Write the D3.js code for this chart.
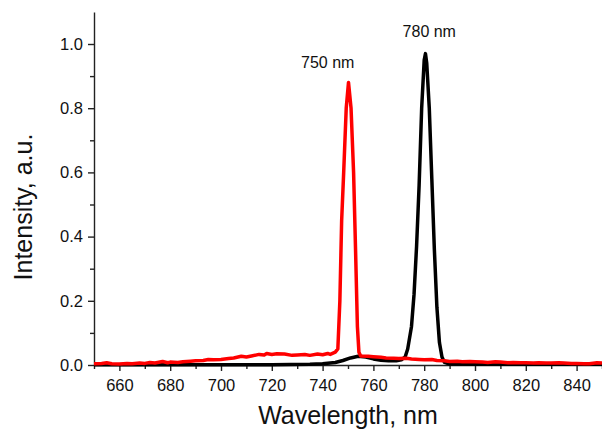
<!DOCTYPE html>
<html>
<head>
<meta charset="utf-8">
<script src="https://cdn.jsdelivr.net/npm/d3@7"></script>
<style>
  html, body { margin: 0; padding: 0; background: #fff; }
  svg { display: block; font-family: "Liberation Sans", Arial, sans-serif; }
</style>
</head>
<body>
<svg id="chart" width="602" height="431"></svg>
<script>
// Emission spectra
const redWavelength = [650, 653, 655, 657, 660, 663, 665, 668, 670, 672, 674, 677, 679, 680, 683, 685, 688, 690, 693, 695, 697, 700, 703, 705, 708, 710, 712, 715, 717, 718, 720, 722, 725, 728, 730, 733, 735, 738, 740, 742, 743, 745, 746, 746.8, 747.5, 748.3, 749.3, 750.2, 751.2, 752.2, 753, 753.7, 754.3, 755, 758, 760, 763, 765, 768, 770, 773, 775, 778, 780, 783, 785, 788, 790, 793, 795, 798, 800, 803, 805, 808, 810, 813, 815, 818, 820, 823, 825, 828, 830, 833, 835, 838, 840, 843, 845, 848, 850];
const redIntensity = [0.004, 0.005, 0.007, 0.004, 0.003, 0.005, 0.004, 0.006, 0.005, 0.008, 0.006, 0.011, 0.007, 0.009, 0.008, 0.01, 0.012, 0.013, 0.014, 0.017, 0.016, 0.017, 0.02, 0.022, 0.027, 0.025, 0.028, 0.033, 0.031, 0.036, 0.033, 0.035, 0.034, 0.03, 0.031, 0.033, 0.03, 0.034, 0.032, 0.036, 0.033, 0.04, 0.05, 0.2, 0.45, 0.6, 0.8, 0.88, 0.8, 0.6, 0.35, 0.12, 0.04, 0.028, 0.027, 0.026, 0.024, 0.022, 0.021, 0.02, 0.021, 0.019, 0.017, 0.016, 0.017, 0.014, 0.013, 0.011, 0.012, 0.01, 0.011, 0.01, 0.009, 0.008, 0.01, 0.009, 0.007, 0.008, 0.007, 0.007, 0.006, 0.007, 0.006, 0.006, 0.007, 0.006, 0.005, 0.005, 0.004, 0.004, 0.007, 0.006];

const blackWavelength = [650, 700, 720, 735, 740, 745, 748, 751, 754, 757, 760, 763, 766, 769, 771, 772.5, 773.5, 775, 776, 777, 778, 779, 780, 780.5, 781, 782, 783, 784, 785, 786, 787, 788, 790, 800, 850];
const blackIntensity = [0.001, 0.001, 0.001, 0.002, 0.004, 0.008, 0.014, 0.022, 0.027, 0.025, 0.019, 0.015, 0.013, 0.013, 0.016, 0.025, 0.05, 0.12, 0.22, 0.37, 0.56, 0.8, 0.95, 0.97, 0.94, 0.8, 0.58, 0.36, 0.18, 0.07, 0.025, 0.008, 0.003, 0.002, 0.002];

const peakLabels = ["750 nm", "780 nm"];
const peakLabelX = [742, 782];
const peakLabelY = [0.925, 1.022];

const xTicks = [660, 680, 700, 720, 740, 760, 780, 800, 820, 840];
const xMinorTicks = [650, 670, 690, 710, 730, 750, 770, 790, 810, 830, 850];
const yTicks = [0.0, 0.2, 0.4, 0.6, 0.8, 1.0];
const yMinorTicks = [0.1, 0.3, 0.5, 0.7, 0.9];

const svg = d3.select("#chart");

const x = d3.scaleLinear().domain([650, 850]).range([94, 602]);
const y = d3.scaleLinear().domain([0, 1.1]).range([365, 11.9]);

// Minor ticks first, then labelled axes on top
svg.append("g")
  .attr("transform", "translate(0,365)")
  .call(d3.axisBottom(x).tickValues(xMinorTicks).tickSize(4).tickFormat(""))
  .call(g => g.select(".domain").remove());

svg.append("g")
  .attr("transform", "translate(94,0)")
  .call(d3.axisLeft(y).tickValues(yMinorTicks).tickSize(4).tickFormat(""))
  .call(g => g.select(".domain").remove());

const xAxis = svg.append("g")
  .attr("transform", "translate(0,365)")
  .call(d3.axisBottom(x).tickValues(xTicks).tickSize(6).tickSizeOuter(0).tickPadding(8));

const yAxis = svg.append("g")
  .attr("transform", "translate(94,0)")
  .call(d3.axisLeft(y).tickValues(yTicks).tickSize(6).tickSizeOuter(0).tickPadding(5)
    .tickFormat(d3.format(".1f")));

svg.selectAll(".tick line, .domain").attr("stroke", "#222").attr("stroke-width", 1.4);
[xAxis, yAxis].forEach(a => a.selectAll("text")
  .attr("font-family", "Liberation Sans, Arial, sans-serif")
  .attr("font-size", 16.5)
  .attr("fill", "#111"));

// Spectra
const line = d3.line().x(d => x(d[0])).y(d => y(d[1]));

svg.append("path")
  .datum(d3.zip(blackWavelength, blackIntensity))
  .attr("fill", "none")
  .attr("stroke", "#000")
  .attr("stroke-width", 3.5)
  .attr("stroke-linejoin", "round")
  .attr("d", line);

svg.append("path")
  .datum(d3.zip(redWavelength, redIntensity))
  .attr("fill", "none")
  .attr("stroke", "#ff0000")
  .attr("stroke-width", 3.5)
  .attr("stroke-linejoin", "round")
  .attr("d", line);

// Peak annotations
svg.selectAll(".peak")
  .data(peakLabels)
  .enter().append("text")
  .attr("class", "peak")
  .attr("x", (d, i) => x(peakLabelX[i]))
  .attr("y", (d, i) => y(peakLabelY[i]))
  .attr("text-anchor", "middle")
  .attr("font-size", 16)
  .attr("fill", "#111")
  .text(d => d);

// Axis titles
svg.append("text")
  .attr("x", 348)
  .attr("y", 424)
  .attr("text-anchor", "middle")
  .attr("font-size", 25)
  .attr("fill", "#111")
  .text("Wavelength, nm");

svg.append("text")
  .attr("transform", "translate(32,207) rotate(-90)")
  .attr("text-anchor", "middle")
  .attr("font-size", 25)
  .attr("fill", "#111")
  .text("Intensity, a.u.");
</script>
</body>
</html>
